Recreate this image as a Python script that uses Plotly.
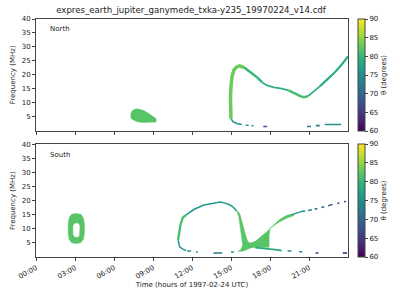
import plotly.graph_objects as go
from plotly.colors import sample_colorscale

TITLE = "expres_earth_jupiter_ganymede_txka-y235_19970224_v14.cdf"
X_TICK_VALUES = [0, 3, 6, 9, 12, 15, 18, 21]
X_TICK_LABELS = ["00:00", "03:00", "06:00", "09:00", "12:00", "15:00", "18:00", "21:00"]
Y_TICK_VALUES = [5, 10, 15, 20, 25, 30, 35, 40]
CB_TICKS = [60, 65, 70, 75, 80, 85, 90]
THETA_MIN, THETA_MAX = 60, 90

# ---------------- North (top panel) ----------------
N_blob_t = [7.28, 7.35, 7.5, 7.73, 8.03, 8.33, 8.7, 9.08, 9.23, 9.23, 8.78, 8.18, 7.73, 7.43, 7.28]
N_blob_f = [5.7, 6.75, 7.45, 7.8, 7.6, 7.1, 6.05, 5.0, 4.3, 3.1, 2.9, 2.9, 3.25, 3.95, 4.65]
N_blob_theta = 82

N_vert_t = [15.0, 14.96, 14.96, 15.0, 15.08, 15.23, 15.45, 15.68, 15.98]
N_vert_f = [4.3, 7.45, 11.65, 15.85, 19.35, 21.8, 22.85, 23.2, 22.7]
N_vert_theta = 83
N_desc1_t = [15.98, 16.28, 16.65, 17.03, 17.4]
N_desc1_f = [22.7, 21.8, 20.4, 19.0, 17.25]
N_desc1_theta = 80
N_desc2_t = [17.4, 17.78, 18.3, 18.83, 19.43]
N_desc2_f = [17.25, 16.2, 15.5, 15.15, 14.45]
N_desc2_theta = 79
N_desc3_t = [19.43, 19.95, 20.33, 20.63, 20.93]
N_desc3_f = [14.45, 13.2, 12.35, 12.0, 12.35]
N_desc3_theta = 81
N_rise1_t = [20.93, 21.3, 21.83]
N_rise1_f = [12.35, 13.75, 15.85]
N_rise1_theta = 77
N_rise2_t = [21.83, 22.43, 23.03, 23.55, 23.93, 24.0]
N_rise2_f = [15.85, 18.3, 21.1, 23.9, 26.35, 26.6]
N_rise2_theta = 79
N_low_t = [15.0, 15.15, 15.45, 15.83]
N_low_f = [4.3, 3.2, 2.55, 2.2]
N_low_theta = 76
N_dash_t0 = [16.13, 16.58, 17.48, 20.85, 21.53, 22.2]
N_dash_t1 = [16.35, 16.73, 17.78, 21.15, 21.83, 23.48]
N_dash_f = [1.95, 1.75, 1.5, 1.5, 1.8, 2.2]
N_dash_theta = [75, 74, 68, 72, 73, 75]

# ---------------- South (bottom panel) ----------------
S_ring_out_t = [3.1, 3.45, 3.64, 3.72, 3.72, 3.64, 3.45, 3.1, 2.74, 2.55, 2.48, 2.48, 2.55, 2.74, 3.1]
S_ring_out_f = [15.43, 15.15, 13.94, 11.85, 8.38, 6.29, 5.07, 4.8, 5.07, 6.29, 8.38, 11.85, 13.94, 15.15, 15.43]
S_ring_in_t = [3.11, 3.3, 3.35, 3.35, 3.3, 3.11, 2.93, 2.87, 2.87, 2.93, 3.11]
S_ring_in_f = [11.96, 11.68, 10.81, 8.38, 7.33, 7.09, 7.33, 8.38, 10.81, 11.68, 11.96]
S_ring_theta = 82

S_arc_top_t = [15.43, 15.17, 14.93, 14.55, 14.18, 13.67, 12.92, 12.17, 11.55]
S_arc_top_f = [16.37, 17.76, 18.46, 19.15, 19.5, 19.15, 18.46, 16.96, 14.98]
S_arc_top_theta = 76
S_arc_left_t = [11.55, 11.3, 11.1, 10.97, 10.93]
S_arc_left_f = [14.98, 14.04, 11.16, 7.68, 5.94]
S_arc_left_theta = 81
S_arc_bot_t = [10.93, 11.05, 11.3, 11.55]
S_arc_bot_f = [5.94, 3.61, 2.82, 2.29]
S_arc_bot_theta = 76

S_desc_t = [15.41, 15.6, 15.68, 15.75, 15.83, 15.9, 15.75, 15.53, 15.98, 16.43, 16.8, 16.58, 16.28, 16.13, 15.98, 15.83, 15.68, 15.41]
S_desc_f = [16.72, 14.29, 11.51, 9.07, 6.64, 4.21, 2.6, 1.95, 2.12, 3.16, 3.86, 4.38, 5.6, 7.68, 10.12, 12.9, 15.33, 16.72]
S_desc_theta = 82

S_wedge_t = [16.43, 16.88, 17.33, 17.78, 18.3, 18.83, 19.28, 19.8, 19.8, 19.35, 18.9, 18.45, 18.0, 17.93, 17.93, 17.33, 16.88, 16.43, 16.43]
S_wedge_f = [4.9, 5.6, 7.33, 9.07, 11.51, 13.59, 14.81, 15.33, 14.63, 13.94, 12.9, 11.68, 10.12, 7.68, 3.51, 3.34, 3.34, 3.51, 4.9]
S_wedge_theta = 82

S_lowline_t = [16.88, 17.33, 17.93, 18.38, 18.9]
S_lowline_f = [3.34, 3.16, 2.99, 2.64, 2.29]
S_lowline_theta = 78

S_up1_t = [19.65, 20.4]
S_up1_f = [14.98, 16.13]
S_up1_theta = 76
S_up2_t = [20.4, 21.43]
S_up2_f = [16.13, 16.96]
S_up2_theta = 74
S_up3_t = [21.43, 22.65]
S_up3_f = [16.96, 18.46]
S_up3_theta = 70
S_up4_t = [22.65, 23.93]
S_up4_f = [18.46, 19.85]
S_up4_theta = 65

S_dash_t0 = [11.63, 12.3, 13.65, 15.0, 19.35, 20.25, 21.5, 23.6]
S_dash_t1 = [11.93, 12.45, 14.33, 15.23, 19.65, 20.48, 21.73, 23.93]
S_dash_f = [2.12, 1.77, 1.42, 1.77, 2.12, 1.88, 1.42, 1.42]
S_dash_theta = [75, 75, 72, 76, 74, 73, 66, 62]


def col(theta):
    return sample_colorscale("Viridis", [(theta - THETA_MIN) / (THETA_MAX - THETA_MIN)])[0]


fig = go.Figure()


def poly(t, f, theta, xa, ya, fillcolor=None):
    c = fillcolor or col(theta)
    fig.add_trace(go.Scatter(x=t, y=f, mode="lines", fill="toself", fillcolor=c,
                             line=dict(color=c, width=0.5), xaxis=xa, yaxis=ya,
                             hoverinfo="skip", showlegend=False))


def line(t, f, theta, xa, ya, width=2, dash=None):
    fig.add_trace(go.Scatter(x=t, y=f, mode="lines",
                             line=dict(color=col(theta), width=width, dash=dash),
                             xaxis=xa, yaxis=ya, hoverinfo="skip", showlegend=False))


# North
poly(N_blob_t, N_blob_f, N_blob_theta, "x", "y")
line(N_vert_t, N_vert_f, N_vert_theta, "x", "y", width=3.5)
line(N_desc1_t, N_desc1_f, N_desc1_theta, "x", "y", width=2.5)
line(N_desc2_t, N_desc2_f, N_desc2_theta, "x", "y", width=1.8)
line(N_desc3_t, N_desc3_f, N_desc3_theta, "x", "y", width=2.5)
line(N_rise1_t, N_rise1_f, N_rise1_theta, "x", "y", width=1.4)
line(N_rise2_t, N_rise2_f, N_rise2_theta, "x", "y", width=2.2)
line(N_low_t, N_low_f, N_low_theta, "x", "y", width=1.6)
for a, b, f, th in zip(N_dash_t0, N_dash_t1, N_dash_f, N_dash_theta):
    line([a, b], [f, f], th, "x", "y", width=1.6)

# South
poly(S_ring_out_t, S_ring_out_f, S_ring_theta, "x2", "y2")
poly(S_ring_in_t, S_ring_in_f, S_ring_theta, "x2", "y2", fillcolor="white")
line(S_arc_top_t, S_arc_top_f, S_arc_top_theta, "x2", "y2", width=1.5)
line(S_arc_left_t, S_arc_left_f, S_arc_left_theta, "x2", "y2", width=2.3)
line(S_arc_bot_t, S_arc_bot_f, S_arc_bot_theta, "x2", "y2", width=1.5)
poly(S_desc_t, S_desc_f, S_desc_theta, "x2", "y2")
poly(S_wedge_t, S_wedge_f, S_wedge_theta, "x2", "y2")
line(S_lowline_t, S_lowline_f, S_lowline_theta, "x2", "y2", width=1.8)
line(S_up1_t, S_up1_f, S_up1_theta, "x2", "y2", width=1.5)
line(S_up2_t, S_up2_f, S_up2_theta, "x2", "y2", width=1.5, dash="4px,3px")
line(S_up3_t, S_up3_f, S_up3_theta, "x2", "y2", width=1.5, dash="3px,4px")
line(S_up4_t, S_up4_f, S_up4_theta, "x2", "y2", width=1.5, dash="2px,5px")
for a, b, f, th in zip(S_dash_t0, S_dash_t1, S_dash_f, S_dash_theta):
    line([a, b], [f, f], th, "x2", "y2", width=1.6)

FONT = "DejaVu Sans"
cb_common = dict(thickness=7, thicknessmode="pixels", lenmode="fraction", x=1.031, xanchor="left",
                 xpad=0, ypad=0, outlinewidth=1, outlinecolor="#444", ticks="outside", ticklen=3,
                 tickcolor="#444", tickvals=CB_TICKS, tickfont=dict(family=FONT, size=7, color="#222"),
                 title=dict(text="θ (degrees)", side="right", font=dict(family=FONT, size=7, color="#222")))

for xa, ya, y, yanch, ln in [("x", "y", 1, "top", 0.469), ("x2", "y2", 0, "bottom", 0.473)]:
    fig.add_trace(go.Scatter(x=[12], y=[-100], mode="markers", xaxis=xa, yaxis=ya,
                             marker=dict(color=[75], colorscale="Viridis", cmin=THETA_MIN, cmax=THETA_MAX,
                                         showscale=True, size=1,
                                         colorbar=dict(y=y, yanchor=yanch, len=ln, **cb_common)),
                             hoverinfo="skip", showlegend=False))

axis_common = dict(showline=True, linecolor="#444", linewidth=1, mirror=True, ticks="outside",
                   ticklen=3, tickcolor="#444", showgrid=False, zeroline=False,
                   tickfont=dict(family=FONT, size=7, color="#222"))

fig.update_layout(
    width=400, height=300,
    margin=dict(l=31, r=50, t=19, b=38),
    paper_bgcolor="white", plot_bgcolor="white",
    title=dict(text=TITLE, x=0.4775, xanchor="center", y=0.968, yanchor="middle",
               font=dict(family=FONT, size=8.6, color="#222")),
    xaxis=dict(range=[0, 24], anchor="y", tickvals=X_TICK_VALUES, showticklabels=False, **axis_common),
    yaxis=dict(range=[0, 40], domain=[0.531, 1], anchor="x", tickvals=Y_TICK_VALUES,
               title=dict(text="Frequency (MHz)", standoff=5, font=dict(family=FONT, size=7, color="#222")),
               **axis_common),
    xaxis2=dict(range=[0, 24], anchor="y2", tickvals=X_TICK_VALUES, ticktext=X_TICK_LABELS, tickangle=-30,
                title=dict(text="Time (hours of 1997-02-24 UTC)", standoff=2,
                           font=dict(family=FONT, size=7, color="#222")),
                **axis_common),
    yaxis2=dict(range=[0, 40], domain=[0, 0.473], anchor="x2", tickvals=Y_TICK_VALUES,
                title=dict(text="Frequency (MHz)", standoff=5, font=dict(family=FONT, size=7, color="#222")),
                **axis_common),
    annotations=[
        dict(text="North", xref="x domain", yref="y domain", x=0.037, y=0.91, xanchor="left",
             yanchor="middle", showarrow=False, font=dict(family=FONT, size=7, color="#222")),
        dict(text="South", xref="x2 domain", yref="y2 domain", x=0.037, y=0.905, xanchor="left",
             yanchor="middle", showarrow=False, font=dict(family=FONT, size=7, color="#222")),
    ],
)

fig.write_html("out.html")
